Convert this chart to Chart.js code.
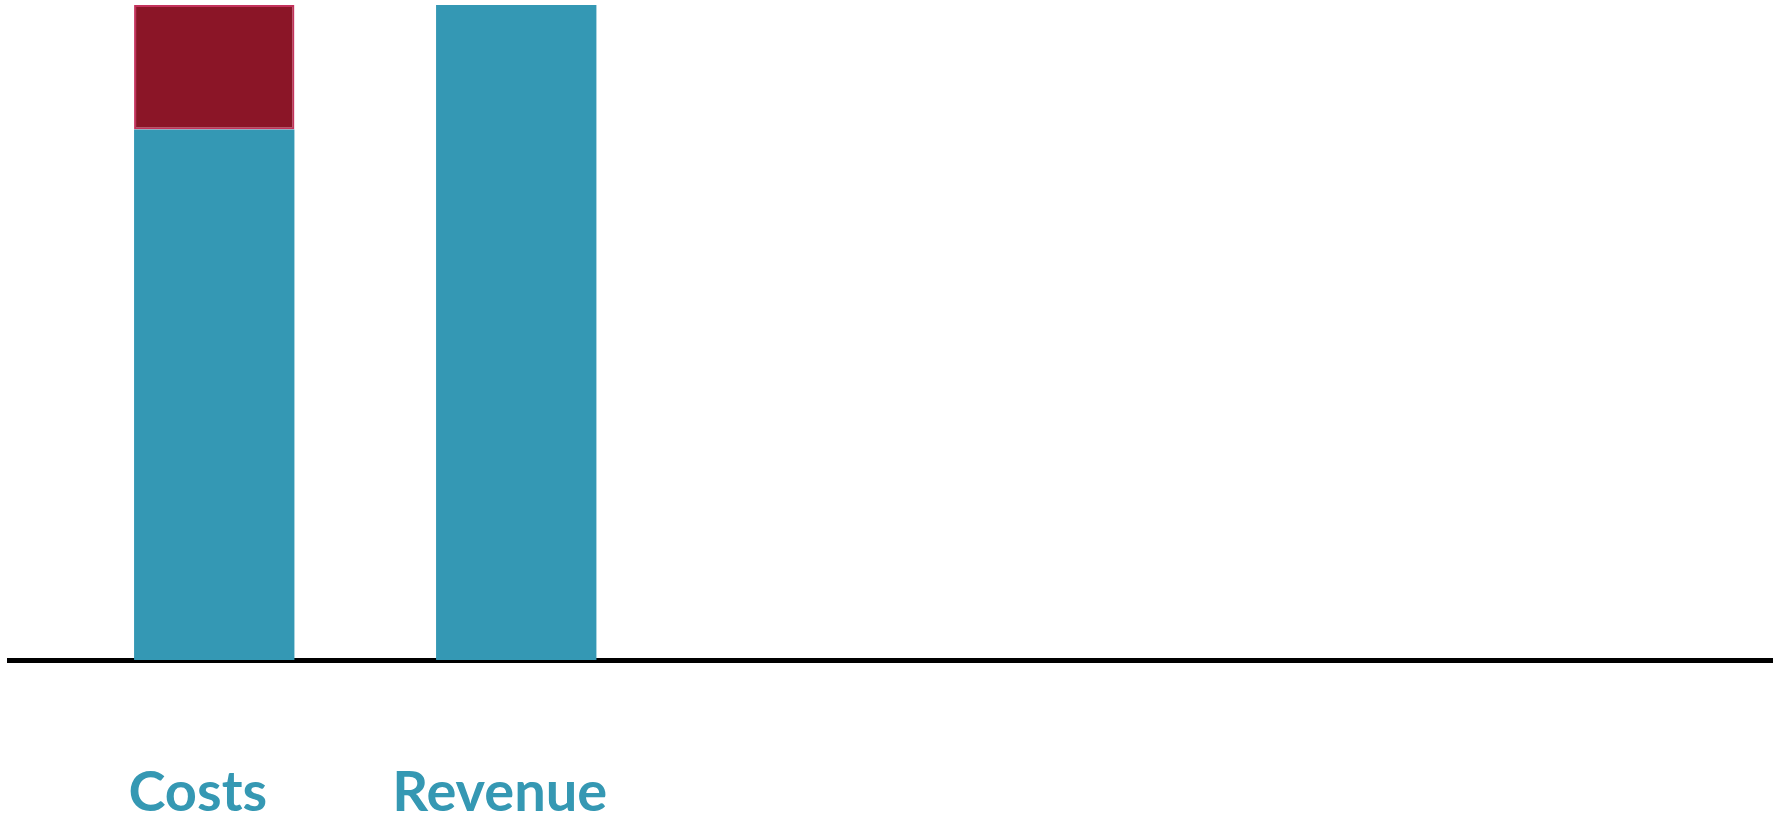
<!DOCTYPE html>
<html>
<head>
<meta charset="utf-8">
<title>Costs vs Revenue</title>
<script src="https://cdn.jsdelivr.net/npm/chart.js@4"></script>
<style>
  html, body { margin: 0; padding: 0; background: #ffffff; }
  #wrap { width: 1789px; height: 816px; position: relative; }
</style>
</head>
<body>
<div id="wrap"><canvas id="chart"></canvas></div>
<script>
// Categories along the baseline, and the index each one sits at
const categories = ['Costs', 'Revenue'];
const positions = [0, 1];

// Stacked series (share of revenue)
const baseValues = [81, 100];     // teal part: costs / revenue
const marginValues = [19, null];  // red part on top of costs

const teal = '#3498B4';
const wine = '#8B1527';

const toPoints = (vals) => positions.map((x, i) => ({ x: x, y: vals[i] }));

new Chart(document.getElementById('chart'), {
  type: 'bar',
  data: {
    datasets: [
      {
        label: 'Base',
        data: toPoints(baseValues),
        backgroundColor: teal,
        borderWidth: 0,
        barPercentage: 0.531,
        categoryPercentage: 1
      },
      {
        label: 'Margin',
        data: toPoints(marginValues),
        backgroundColor: wine,
        borderColor: '#C4325C',
        borderWidth: 2,
        borderSkipped: false,
        barPercentage: 0.531,
        categoryPercentage: 1
      }
    ]
  },
  options: {
    responsive: true,
    maintainAspectRatio: false,
    animation: false,
    layout: { padding: { left: 9.5, right: 16.5, top: 5, bottom: 0 } },
    plugins: {
      legend: { display: false },
      tooltip: { enabled: false }
    },
    scales: {
      x: {
        type: 'linear',
        stacked: true,
        offset: false,
        bounds: 'data',
        min: -0.678,
        max: 5.160,
        afterBuildTicks: (scale) => { scale.ticks = positions.map(v => ({ value: v })); },
        afterFit: (scale) => { scale.height = 156; },
        grid: { display: false, drawTicks: false },
        border: { display: true, color: '#000000', width: 5 },
        ticks: {
          autoSkip: false,
          maxRotation: 0,
          padding: 99,
          labelOffset: -16.5,
          color: '#3598B3',
          font: { family: 'Lato', weight: 'bold', size: 56 },
          callback: (v) => categories[positions.indexOf(v)] ?? ''
        }
      },
      y: {
        stacked: true,
        display: false,
        min: 0,
        max: 100
      }
    }
  }
});
</script>
</body>
</html>
